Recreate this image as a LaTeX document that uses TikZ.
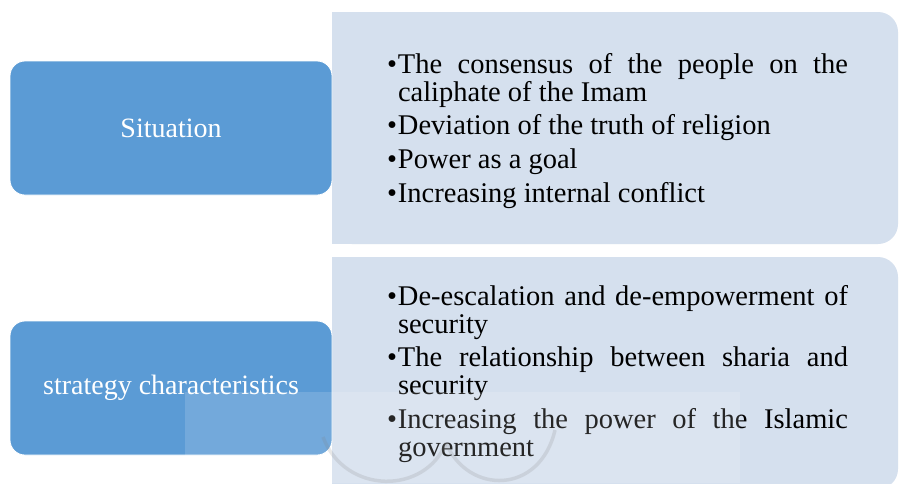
\documentclass[tikz,border=0pt]{standalone}
\usepackage{fontspec}
\setmainfont{Liberation Serif}
\definecolor{headblue}{HTML}{5B9BD5}
\definecolor{paneblue}{HTML}{D5E0EE}
\hyphenpenalty=10000
\exhyphenpenalty=10000
\begin{document}
\begin{tikzpicture}[x=1pt,y=-1pt,
  headbox/.style={draw=white,line width=0.8pt,fill=headblue,rounded corners=15pt,
     minimum width=322pt,minimum height=134pt,inner sep=0pt,text=white,
     font=\fontsize{28}{28}\selectfont},
  listtext/.style={text width=461pt,inner sep=0pt,align=justify,
     font=\fontsize{28.5}{27.8}\selectfont}]
\useasboundingbox (0,0) rectangle (899,483);
\clip (0,0) rectangle (899,483);
\fill[white] (0,0) rectangle (899,483);
% right panes
\fill[paneblue,rounded corners=20pt] (332,12) rectangle (898,244);
\fill[paneblue] (332,12) rectangle (420,244);
\fill[paneblue,rounded corners=20pt] (332,257) rectangle (898,489);
\fill[paneblue] (332,257) rectangle (420,489);
% left boxes
\node[headbox] (sit) at (171,128) {Situation};
\node[headbox] (strat) at (171,388) {strategy characteristics};
% lists
\newcommand{\bitem}[1]{\par\hangindent=11pt\hangafter=1\noindent\makebox[11pt][l]{\textbullet}#1}
\node[listtext] (list1) at (617.5,124) {\hyphenpenalty=10000\exhyphenpenalty=10000\setlength{\parskip}{6pt}%
\bitem{The consensus of the people on the caliphate of the Imam}
\bitem{Deviation of the truth of religion}
\bitem{Power as a goal}
\bitem{Increasing internal conflict}\par};
\node[listtext] (list2) at (617.5,367) {\hyphenpenalty=10000\exhyphenpenalty=10000\setlength{\parskip}{6pt}%
\bitem{De-escalation and de-empowerment of security}
\bitem{The relationship between sharia and security}
\bitem{Increasing the power of the Islamic government}\par};
% watermark
\fill[white,opacity=0.15] (185,392) rectangle (740,483);
\draw[gray,opacity=0.18,line width=3.5pt] (323,437) .. controls (345,495) and (425,495) .. (446,443);
\draw[gray,opacity=0.18,line width=3.5pt] (446,443) .. controls (468,495) and (540,495) .. (555,430);
\end{tikzpicture}
\end{document}
